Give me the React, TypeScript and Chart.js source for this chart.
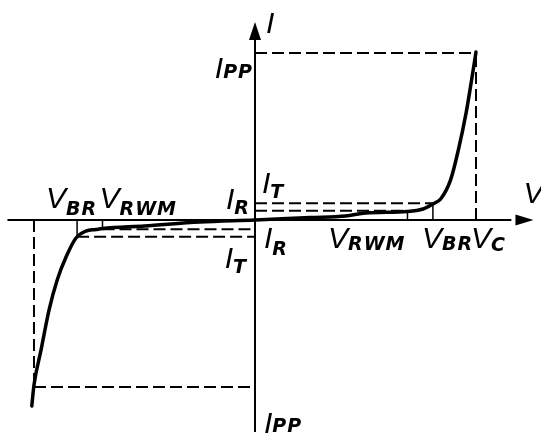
import React, { useEffect, useRef } from "react";
import { Chart, registerables } from "chart.js";

Chart.register(...registerables);

// ---- characteristic values (arbitrary V / I units) ----
const V_C = 10.0;
const V_BR = 8.05;
const V_RWM = 6.9;
const I_PP = 10.0;
const I_T = 1.0;
const I_R = 0.55;

// axis extents (arrow tips at the positive ends)
const axisV = [-11.2, 12.6];
const axisI = [-12.7, 11.86];

// visible window
const viewV = [-11.538, 12.941];
const viewI = [-12.814, 13.174];

// I-V curve of the bidirectional TVS diode
const curveV = [-10.1, -10.0, -9.68, -9.32, -8.95, -8.55, -8.1, -7.65, -7.2, -6.9, -5.0, -2.5, 0,
  2.5, 4.1, 5.0, 6.9, 7.6, 8.05, 8.4, 8.85, 9.2, 9.55, 9.8, 10.0];
const curveI = [-11.14, -9.88, -7.78, -5.39, -3.59, -2.22, -1.08, -0.66, -0.57, -0.51, -0.36, -0.12, 0,
  0.15, 0.24, 0.42, 0.51, 0.66, 0.96, 1.26, 2.4, 4.19, 6.4, 8.38, 10.06];

// label texts (main symbol + subscript)
const labelMain = ["I", "V", "I", "I", "V", "V", "I", "I", "I", "I", "V", "V", "V"];
const labelSub = ["", "", "PP", "PP", "BR", "RWM", "R", "T", "R", "T", "RWM", "BR", "C"];

export default function App() {
  const ref = useRef<HTMLCanvasElement | null>(null);

  useEffect(() => {
    if (!ref.current) return;

    const seg = (pts: number[][]) => pts.map(([x, y]) => ({ x, y }));
    const dashed = (pts: number[][]) => ({
      data: seg(pts),
      showLine: true,
      borderColor: "#000",
      borderWidth: 2,
      borderDash: [12, 5],
      pointRadius: 0,
      fill: false,
      tension: 0,
    });
    const thin = (pts: number[][], w = 1.5) => ({
      data: seg(pts),
      showLine: true,
      borderColor: "#000",
      borderWidth: w,
      pointRadius: 0,
      fill: false,
      tension: 0,
    });

    // anchor values for labels: [V, I] taken from the data above
    const anchors: number[][] = [
      [0, axisI[1]],
      [axisV[1], 0],
      [0, I_PP],
      [0, -I_PP],
      [-V_BR, 0],
      [-V_RWM, 0],
      [0, 0],
      [0, I_T],
      [0, 0],
      [0, -I_T],
      [V_RWM, 0],
      [V_BR, 0],
      [V_C, 0],
    ];
    // layout: dx, dy (px from anchor), align, subscript dy
    const layout: [number, number, string, number][] = [
      [11, 11, "left", 0],
      [-10, -17, "left", 0],
      [-2, 25, "right", 0],
      [9, 46, "left", -1],
      [-31, -12, "left", 7],
      [-3, -12, "left", 7],
      [-5, -11, "right", 5],
      [7, -10, "left", 5],
      [9, 28, "left", 7],
      [-8, 31, "right", 5],
      [-2, 28, "right", 2],
      [-11, 28, "left", 2],
      [-5, 28, "left", 3],
    ];

    const mainFont = 'italic 400 30px "Liberation Sans", Arial, sans-serif';
    const subFont = 'italic 700 19px "DejaVu Sans", sans-serif';

    const overlay = {
      id: "overlay",
      afterDatasetsDraw(chart: any) {
        const { ctx, scales } = chart;
        const px = (v: number) => scales.x.getPixelForValue(v);
        const py = (i: number) => scales.y.getPixelForValue(i);
        ctx.save();
        ctx.fillStyle = "#000";
        // x arrow
        const xt = px(axisV[1]);
        const y0 = py(0);
        ctx.beginPath();
        ctx.moveTo(xt, y0);
        ctx.lineTo(xt - 18, y0 - 5.5);
        ctx.lineTo(xt - 18, y0 + 5.5);
        ctx.closePath();
        ctx.fill();
        // y arrow
        const yt = py(axisI[1]);
        const x0 = px(0);
        ctx.beginPath();
        ctx.moveTo(x0, yt);
        ctx.lineTo(x0 - 6, yt + 18);
        ctx.lineTo(x0 + 6, yt + 18);
        ctx.closePath();
        ctx.fill();

        // labels
        ctx.textBaseline = "alphabetic";
        ctx.textAlign = "left";
        for (let k = 0; k < labelMain.length; k++) {
          const [av, ai] = anchors[k];
          const [dx, dy, align, sdy] = layout[k];
          ctx.font = mainFont;
          (ctx as any).letterSpacing = "0px";
          const mw = ctx.measureText(labelMain[k]).width;
          ctx.font = subFont;
          (ctx as any).letterSpacing = "1px";
          const sw = labelSub[k] ? ctx.measureText(labelSub[k]).width : 0;
          let sx = px(av) + dx;
          const by = py(ai) + dy;
          if (align === "right") sx -= mw + sw;
          ctx.font = mainFont;
          (ctx as any).letterSpacing = "0px";
          ctx.fillText(labelMain[k], sx, by);
          if (labelSub[k]) {
            ctx.font = subFont;
            (ctx as any).letterSpacing = "1px";
            ctx.fillText(labelSub[k], sx + mw, by + sdy);
          }
        }
        ctx.restore();
      },
    };

    const chart = new Chart(ref.current, {
      type: "scatter",
      data: {
        datasets: [
          {
            data: curveV.map((v, i) => ({ x: v, y: curveI[i] })),
            showLine: true,
            borderColor: "#000",
            borderWidth: 3.5,
            borderJoinStyle: "round",
            borderCapStyle: "round",
            pointRadius: 0,
            fill: false,
            cubicInterpolationMode: "monotone",
          } as any,
          thin([[axisV[0], 0], [axisV[1] - 1, 0]], 2),
          thin([[0, axisI[0]], [0, axisI[1] - 1]], 2),
          thin([[V_BR, 0], [V_BR, I_T]]),
          thin([[V_RWM, 0], [V_RWM, I_R]]),
          thin([[-V_BR, 0], [-V_BR, -I_T]]),
          thin([[-V_RWM, 0], [-V_RWM, -I_R]]),
          dashed([[0, I_PP], [V_C, I_PP]]),
          dashed([[V_C, 0], [V_C, I_PP]]),
          dashed([[0, I_T], [V_BR, I_T]]),
          dashed([[0, I_R], [V_RWM, I_R]]),
          dashed([[-V_C, -I_PP], [0, -I_PP]]),
          dashed([[-V_C, 0], [-V_C, -I_PP]]),
          dashed([[-V_BR, -I_T], [0, -I_T]]),
          dashed([[-V_RWM, -I_R], [0, -I_R]]),
        ] as any,
      },
      options: {
        animation: false,
        responsive: false,
        events: [],
        layout: { padding: 0 },
        plugins: { legend: { display: false }, tooltip: { enabled: false } },
        scales: {
          x: { type: "linear", display: false, min: viewV[0], max: viewV[1] },
          y: { type: "linear", display: false, min: viewI[0], max: viewI[1] },
        },
      },
      plugins: [overlay],
    });
    return () => chart.destroy();
  }, []);

  return (
    <div style={{ position: "absolute", left: 0, top: 0, width: 541, height: 434, background: "#fff" }}>
      <canvas ref={ref} width={541} height={434} />
    </div>
  );
}
